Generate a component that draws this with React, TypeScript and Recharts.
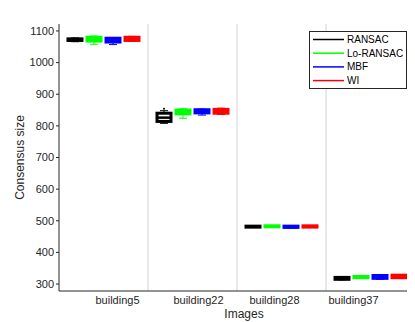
import { ComposedChart, Bar, XAxis, YAxis, CartesianGrid, Legend, Label } from "recharts";

// ── Data ──────────────────────────────────────────────────────────────────────

const categories = ["building5", "building22", "building28", "building37"];

// each entry: [min, q1, median, q3, max]
const ransac = [
  [1066, 1070, 1072, 1075, 1078],
  [808, 814, 826, 840, 848],
  [480, 481, 482, 483, 484],
  [313, 315, 318, 321, 323],
];
const loRansac = [
  [1058, 1068, 1074, 1080, 1084],
  [824, 838, 844, 850, 854],
  [481, 482, 483, 484, 485],
  [318, 320, 322, 324, 326],
];
const mbf = [
  [1057, 1065, 1071, 1077, 1079],
  [834, 841, 846, 851, 853],
  [477, 479, 481, 483, 484],
  [315, 318, 322, 327, 329],
];
const wi = [
  [1067, 1070, 1075, 1080, 1083],
  [836, 840, 846, 852, 856],
  [479, 480, 482, 484, 485],
  [318, 320, 324, 328, 330],
];
const ransacOutliers = [[], [854], [], []];
const noOutliers = [[], [], [], []];

const yTicks = [300, 400, 500, 600, 700, 800, 900, 1000, 1100];

const series = [
  { key: "ransac", name: "RANSAC", color: "#000000", stats: ransac, out: ransacOutliers },
  { key: "lo", name: "Lo-RANSAC", color: "#00ff00", stats: loRansac, out: noOutliers },
  { key: "mbf", name: "MBF", color: "#0000ff", stats: mbf, out: noOutliers },
  { key: "wi", name: "WI", color: "#ff0000", stats: wi, out: noOutliers },
];

const data = categories.map((name, i) => {
  const row: Record<string, unknown> = { name };
  series.forEach((s) => {
    row[s.key] = s.stats[i];
    row[s.key + "Out"] = s.out[i];
  });
  return row;
});

// ── Layout constants ──────────────────────────────────────────────────────────

const FONT = "'Liberation Sans', Arial, sans-serif";
const AXIS = "#262626";
const labelShift = [14, 6, -7, -17];

// box drawn inside the [min, max] range bar, using the bar's own pixel scale
const makeBox = (key: string, color: string) => (props: any) => {
  const { x, y, width, height, payload } = props;
  const s = payload[key] as number[];
  const outs = (payload[key + "Out"] as number[]) || [];
  const [min, q1, med, q3, max] = s;
  const k = height / (max - min);
  const py = (v: number) => y + (max - v) * k;
  const cx = x + width / 2;
  const cap = 4;
  return (
    <g>
      <line x1={cx} x2={cx} y1={py(max)} y2={py(min)} stroke={color} strokeWidth={1} />
      <line x1={cx - cap} x2={cx + cap} y1={py(max)} y2={py(max)} stroke={color} strokeWidth={1} />
      <line x1={cx - cap} x2={cx + cap} y1={py(min)} y2={py(min)} stroke={color} strokeWidth={1} />
      <rect
        x={x + 1}
        y={py(q3)}
        width={width - 2}
        height={Math.max(py(q1) - py(q3), 1)}
        fill="#ffffff"
        stroke={color}
        strokeWidth={3}
      />
      <line x1={x + 1} x2={x + width - 1} y1={py(med)} y2={py(med)} stroke={color} strokeWidth={2.5} />
      {outs.map((o, i) => (
        <circle key={i} cx={cx} cy={py(o)} r={1} fill={color} />
      ))}
    </g>
  );
};

function LegendBox() {
  return (
    <svg width={98} height={58} style={{ display: "block" }}>
      <rect x={0.5} y={0.5} width={97} height={57} fill="#ffffff" stroke={AXIS} strokeWidth={1} />
      {series.map((s, i) => {
        const cy = 8.5 + i * 13.7;
        return (
          <g key={s.key}>
            <line x1={4} x2={35} y1={cy} y2={cy} stroke={s.color} strokeWidth={1.5} />
            <text x={38} y={cy + 3.5} fontSize={10} fontFamily={FONT} fill="#000">
              {s.name}
            </text>
          </g>
        );
      })}
    </svg>
  );
}

export default function App() {
  return (
    <ComposedChart
      width={407}
      height={314}
      data={data}
      margin={{ top: 16, right: 0, left: 11, bottom: 1 }}
      barSize={16}
      barGap={3}
    >
      <CartesianGrid
        horizontal={false}
        stroke="#d2d2d2"
        verticalCoordinatesGenerator={({ offset }: any) =>
          [1, 2, 3].map((i) => offset.left + (offset.width * i) / 4)
        }
      />
      <XAxis
        dataKey="name"
        height={30}
        tickLine={false}
        tickSize={4}
        tickMargin={0}
        axisLine={{ stroke: AXIS }}
        interval={0}
        tick={(p: any) => (
          <text
            x={p.x + labelShift[p.index]}
            y={p.y}
            dy={9}
            textAnchor="middle"
            fontSize={11}
            fontFamily={FONT}
            fill={AXIS}
          >
            {p.payload.value}
          </text>
        )}
      >
        <Label
          value="Images"
          position="insideBottom"
          offset={3}
          dx={7}
          style={{ fontSize: 12, fontFamily: FONT, fill: AXIS }}
        />
      </XAxis>
      <XAxis
        xAxisId="top"
        dataKey="name"
        orientation="top"
        height={0}
        tick={false}
        tickLine={false}
        axisLine={{ stroke: "#9a9a9a" }}
      />
      <YAxis
        type="number"
        domain={[278, 1122]}
        ticks={yTicks}
        allowDataOverflow
        width={40}
        tickSize={3}
        tickMargin={2}
        tickLine={{ stroke: AXIS }}
        axisLine={{ stroke: AXIS }}
        tick={{ fontSize: 11, fontFamily: FONT, fill: AXIS }}
      >
        <Label
          value="Consensus size"
          angle={-90}
          position="insideLeft"
          offset={1}
          style={{ fontSize: 12, fontFamily: FONT, fill: AXIS, textAnchor: "middle" }}
        />
      </YAxis>
      <YAxis
        yAxisId="right"
        orientation="right"
        type="number"
        domain={[278, 1122]}
        ticks={yTicks}
        allowDataOverflow
        width={6}
        mirror
        tickSize={3}
        tickLine={{ stroke: AXIS }}
        axisLine={{ stroke: "#9a9a9a" }}
        tick={() => <g />}
      />
      <Legend
        layout="vertical"
        align="center"
        verticalAlign="middle"
        wrapperStyle={{ position: "absolute", left: 301, top: 23, width: 98, height: 58 }}
        content={() => <LegendBox />}
      />
      {series.map((s) => (
        <Bar
          key={s.key}
          name={s.name}
          dataKey={(d: any) => [d[s.key][0], d[s.key][4]]}
          fill={s.color}
          isAnimationActive={false}
          shape={makeBox(s.key, s.color)}
        />
      ))}
    </ComposedChart>
  );
}
